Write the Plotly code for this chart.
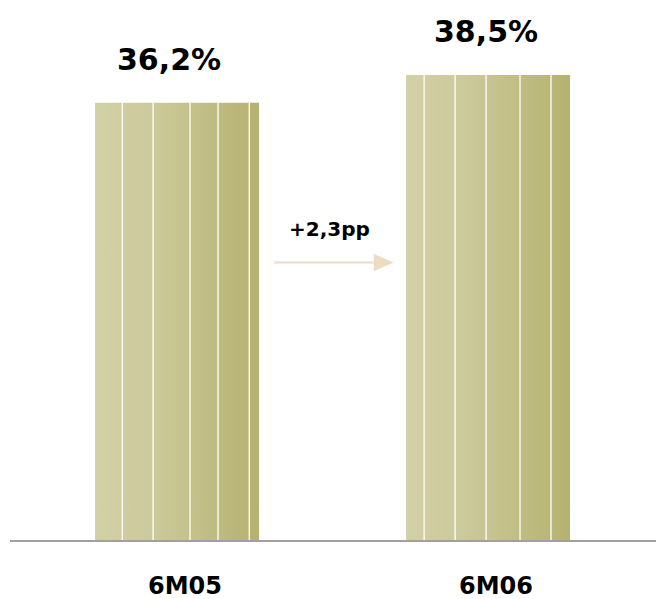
import plotly.graph_objects as go

# Data
periods = ["6M05", "6M06"]
shares = [36.2, 38.5]
share_labels = ["36,2%", "38,5%"]
change_label = "+2,3pp"

# Styling
BAR_WIDTH = 0.527
GRAD_LIGHT = "#D2D0A5"
GRAD_DARK = "#B5B16F"
# relative positions of the thin white dividers inside each bar
DIVIDERS = [
    [0.166, 0.354, 0.579, 0.75, 0.941],
    [0.11, 0.299, 0.488, 0.695, 0.884],
]
ARROW_COLOR = "#EBDCC3"
FONT = "DejaVu Sans"

fig = go.Figure()
shapes = []
annotations = []

for i, (p, v) in enumerate(zip(periods, shares)):
    x0 = i - BAR_WIDTH / 2
    x1 = i + BAR_WIDTH / 2
    fig.add_trace(go.Scatter(
        x=[x0, x1, x1, x0, x0],
        y=[0, 0, v, v, 0],
        mode="lines",
        line=dict(width=0),
        fill="toself",
        fillgradient=dict(
            type="horizontal",
            start=x0,
            stop=x1,
            colorscale=[[0, GRAD_LIGHT], [0.35, "#CCCA9B"], [1, GRAD_DARK]],
        ),
        hoverinfo="skip",
        showlegend=False,
    ))
    for f in DIVIDERS[i]:
        xd = x0 + f * BAR_WIDTH
        shapes.append(dict(type="line", xref="x", yref="y",
                           x0=xd, x1=xd, y0=0, y1=v,
                           line=dict(color="white", width=1.3)))
    annotations.append(dict(
        x=i, y=v, xref="x", yref="y",
        text="<b>%s</b>" % share_labels[i],
        showarrow=False, yanchor="middle",
        xshift=-8 if i == 0 else -2, yshift=43,
        font=dict(family=FONT, size=30, color="black"),
    ))
    annotations.append(dict(
        x=i, y=0, xref="x", yref="y",
        text="<b>%s</b>" % p,
        showarrow=False, yanchor="middle", valign="middle", height=24,
        xshift=8, yshift=-46,
        font=dict(family=FONT, size=24, color="black"),
    ))

# change arrow between the bars
ax0 = 0 + BAR_WIDTH / 2 + 0.049
ax1 = 1 - BAR_WIDTH / 2 - 0.04
head = 0.064
ay = 22.97
shapes.append(dict(type="line", xref="x", yref="y",
                   x0=ax0, x1=ax1 - head, y0=ay, y1=ay,
                   line=dict(color=ARROW_COLOR, width=2)))
shapes.append(dict(type="path", xref="x", yref="y",
                   path="M %f %f L %f %f L %f %f Z" % (
                       ax1 - head, ay + 0.72, ax1, ay, ax1 - head, ay - 0.72),
                   fillcolor=ARROW_COLOR, line=dict(width=0)))
annotations.append(dict(
    x=(ax0 + ax1) / 2, y=ay, xref="x", yref="y",
    text="<b>%s</b>" % change_label,
    showarrow=False, yanchor="middle", xshift=-4, yshift=34,
    font=dict(family=FONT, size=20, color="black"),
))

fig.update_layout(
    width=656, height=599,
    margin=dict(l=10, r=0, t=0, b=59),
    paper_bgcolor="white", plot_bgcolor="white",
    shapes=shapes, annotations=annotations,
    xaxis=dict(range=[-0.537, 1.540], showgrid=False, zeroline=False,
               showticklabels=False, ticks="", showline=True,
               linecolor="#A0A0A0", linewidth=1.5, fixedrange=True),
    yaxis=dict(range=[0, 44.7], showgrid=False, zeroline=False,
               showticklabels=False, ticks="", showline=False, fixedrange=True),
)

fig.write_html("out.html")
